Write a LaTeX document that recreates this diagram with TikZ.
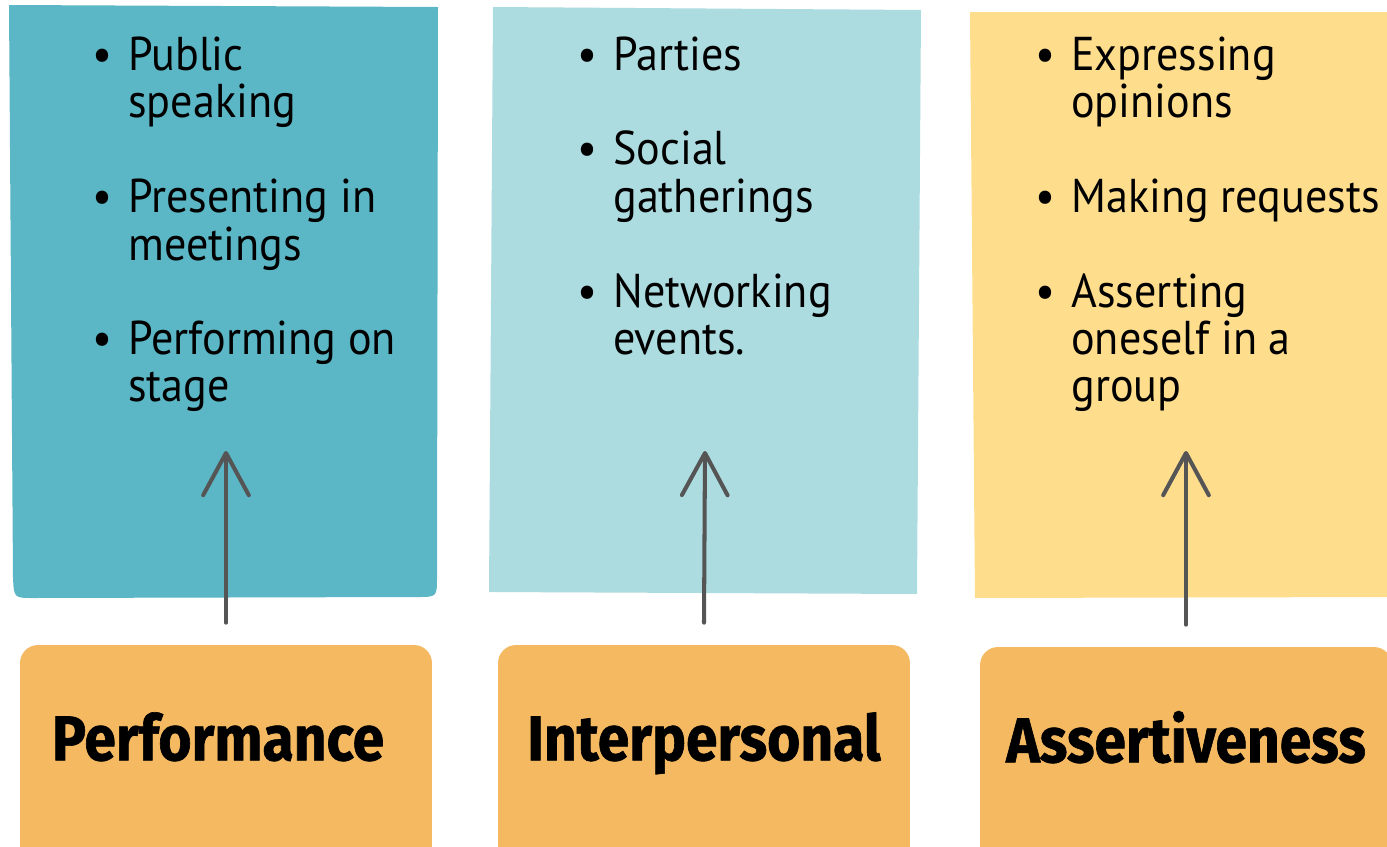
\documentclass[tikz,border=0pt]{standalone}
\usepackage{fontspec}
\setmainfont{PT Sans}[FakeStretch=0.93]
\newfontfamily\catfont{Fira Sans}[FakeStretch=0.9,FakeBold=1]
\usetikzlibrary{arrows.meta}

\definecolor{perfblue}{HTML}{5BB6C5}
\definecolor{socblue}{HTML}{ACDBE0}
\definecolor{assyellow}{HTML}{FEDD8D}
\definecolor{catorange}{HTML}{F4B961}
\definecolor{arrowgray}{HTML}{555555}

\tikzset{
  catbox/.style={fill=catorange, rounded corners=0.36cm, inner sep=0pt,
    minimum width=8.24cm, minimum height=4.4cm,
    text height=26pt, text depth=20pt,
    font=\catfont\bfseries\fontsize{36}{36}\selectfont},
  itemlist/.style={anchor=base west, inner sep=0pt,
    font=\fontsize{27}{26.75}\selectfont},
  raise/.style={draw=arrowgray, line width=2.3pt, line cap=round,
    -{Straight Barb[round,length=24pt,width=26pt]}}
}

\newcommand{\itembox}[1]{%
  \begin{tabular}[t]{@{}p{0.72cm}@{}l@{}}#1\end{tabular}}

\begin{document}
\begin{tikzpicture}[x=0.02cm,y=-0.02cm]
  \useasboundingbox (0,0) rectangle (1387,846);
  \clip (0,0) rectangle (1387,846);

  % coloured boards
  \fill[perfblue] (9,5) -- (438,7) -- (437,577)
    .. controls (437,597) .. (417,597) -- (34,598)
    .. controls (14,598) .. (13,578) -- cycle;
  \fill[socblue] (493,7) -- (921,10) -- (917,594) -- (489,592) -- cycle;
  \fill[assyellow] (970,12) -- (1390,12) -- (1390,597) -- (975,598) -- cycle;

  \node[itemlist] (perflist) at (92,70) {\itembox{%
    \textbullet & Public\\ & speaking\\[26.75pt]
    \textbullet & Presenting in\\ & meetings\\[26.75pt]
    \textbullet & Performing on\\ & stage}};
  \node[itemlist] (soclist) at (577,70) {\itembox{%
    \textbullet & Parties\\[26.75pt]
    \textbullet & Social\\ & gatherings\\[26.75pt]
    \textbullet & Networking\\ & events.}};
  \node[itemlist] (asslist) at (1035,70) {\itembox{%
    \textbullet & Expressing\\ & opinions\\[26.75pt]
    \textbullet & Making requests\\[26.75pt]
    \textbullet & Asserting\\ & oneself in a\\ & group}};

  % categories
  \node[catbox] (perf) at (226,755) {\hspace*{-0.32cm}Performance};
  \node[catbox] (soc) at (704,755) {Interpersonal};
  \node[catbox] (ass) at (1186,757) {Assertiveness};

  \coordinate (perftip) at (226,451);
  \coordinate (soctip) at (705,451);
  \coordinate (asstip) at (1186,451);

  \draw[raise] ([yshift=0.44cm]perf.north) -- (perftip);
  \draw[raise] ([yshift=0.44cm]soc.north) -- (soctip);
  \draw[raise] ([yshift=0.44cm]ass.north) -- (asstip);
\end{tikzpicture}
\end{document}
